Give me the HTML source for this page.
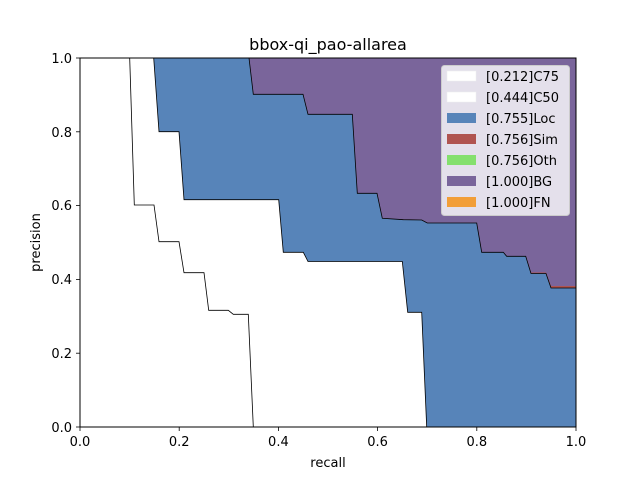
<!DOCTYPE html>
<html><head><style>body{margin:0;background:#fff}svg{display:block;font-family:"DejaVu Sans","Liberation Sans",sans-serif}</style></head><body>
<svg width="640" height="480" viewBox="0 0 640 480" xmlns="http://www.w3.org/2000/svg">
<rect width="640" height="480" fill="#fff"/>
<rect x="80" y="58" width="496" height="369" fill="#7a659b"/>
<polygon fill="#b05450" points="80,58 249,58 253.3,94.3 303,94.3 308,114.3 352.3,114.3 357.3,193.3 377,193.3 382.3,218.3 403.3,219.7 421.7,220 427.3,223 476.7,223 481.7,252.3 503.3,252.3 506.7,256.3 525.7,256.3 531,272.5 546,272.5 551,286 576,286 576,427 80,427"/>
<polygon fill="#5784b9" stroke="#000" stroke-width="0.8" points="80,58 249,58 253.3,94.3 303,94.3 308,114.3 352.3,114.3 357.3,193.3 377,193.3 382.3,218.3 403.3,219.7 421.7,220 427.3,223 476.7,223 481.7,252.3 503.3,252.3 506.7,256.3 525.7,256.3 531,273.5 546,273.5 551,288 576,288 576,427 80,427"/>
<polygon fill="#fff" stroke="#000" stroke-width="0.8" points="80,58 153.7,58 159,131.7 179,131.7 184,199.7 278.7,199.7 283.3,252.3 303.3,252.3 308,261.5 402.3,261.5 407.7,312.3 421.7,312.3 426.7,427 80,427"/>
<polyline fill="none" stroke="#000" stroke-width="0.8" points="129.7,58 134.3,205 154,205 159,241.7 179,241.7 184,272.7 204,272.7 208.7,310.3 228.3,310.3 233.3,314.3 248.3,314.3 253.3,427"/>
<rect x="80" y="58" width="496" height="369" fill="none" stroke="#000" stroke-width="1"/>
<rect x="441.5" y="65.5" width="128" height="150" rx="3" fill="#fff" fill-opacity="0.8" stroke="#ccc"/>
<g font-size="13" fill="#000">
<rect x="447" y="71" width="29" height="10" fill="#fff" stroke="#eee" stroke-width="0.5"/><text x="486" y="81">[0.212]C75</text>
<rect x="447" y="92" width="29" height="10" fill="#fff" stroke="#eee" stroke-width="0.5"/><text x="486" y="102">[0.444]C50</text>
<rect x="447" y="113" width="29" height="10" fill="#5784b9"/><text x="486" y="123">[0.755]Loc</text>
<rect x="447" y="134" width="29" height="10" fill="#b05450"/><text x="486" y="144">[0.756]Sim</text>
<rect x="447" y="155" width="29" height="10" fill="#85e06e"/><text x="486" y="165">[0.756]Oth</text>
<rect x="447" y="176" width="29" height="10" fill="#7a659b"/><text x="486" y="186">[1.000]BG</text>
<rect x="447" y="197" width="29" height="10" fill="#f29e38"/><text x="486" y="207">[1.000]FN</text>
</g>
<g stroke="#000" stroke-width="0.8">
<line x1="80" y1="427" x2="80" y2="431"/><line x1="179.2" y1="427" x2="179.2" y2="431"/><line x1="278.4" y1="427" x2="278.4" y2="431"/><line x1="377.6" y1="427" x2="377.6" y2="431"/><line x1="476.8" y1="427" x2="476.8" y2="431"/><line x1="576" y1="427" x2="576" y2="431"/>
<line x1="76" y1="427" x2="80" y2="427"/><line x1="76" y1="353.2" x2="80" y2="353.2"/><line x1="76" y1="279.4" x2="80" y2="279.4"/><line x1="76" y1="205.6" x2="80" y2="205.6"/><line x1="76" y1="131.8" x2="80" y2="131.8"/><line x1="76" y1="58" x2="80" y2="58"/>
</g>
<g font-size="13" fill="#000" text-anchor="middle">
<text x="80" y="446">0.0</text><text x="179.2" y="446">0.2</text><text x="278.4" y="446">0.4</text><text x="377.6" y="446">0.6</text><text x="476.8" y="446">0.8</text><text x="576" y="446">1.0</text>
<text x="328" y="467">recall</text>
</g>
<g font-size="13" fill="#000" text-anchor="end">
<text x="72" y="432">0.0</text><text x="72" y="358">0.2</text><text x="72" y="284">0.4</text><text x="72" y="210">0.6</text><text x="72" y="137">0.8</text><text x="72" y="63">1.0</text>
</g>
<text x="40" y="242.5" font-size="13" text-anchor="middle" transform="rotate(-90 40 242.5)">precision</text>
<text x="328" y="50" font-size="16" text-anchor="middle">bbox-qi_pao-allarea</text>
</svg>
</body></html>
